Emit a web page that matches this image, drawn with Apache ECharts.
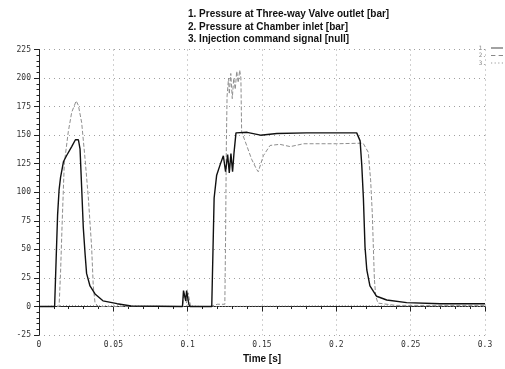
<!DOCTYPE html>
<html>
<head>
<meta charset="utf-8">
<script src="https://cdn.jsdelivr.net/npm/echarts@6/dist/echarts.min.js"></script>
<style>html,body{margin:0;padding:0;background:#fff;}#c{width:505px;height:369px;}</style>
</head>
<body>
<div id="c"></div>
<script>
var titleLines = [
  "1. Pressure at Three-way Valve outlet [bar]",
  "2. Pressure at Chamber inlet [bar]",
  "3. Injection command signal [null]"
];
var legendLabels = ["1.", "2.", "3."];
var xTicks = [0, 0.05, 0.1, 0.15, 0.2, 0.25, 0.3];
var yTicks = [-25, 0, 25, 50, 75, 100, 125, 150, 175, 200, 225];

// Series 1: Pressure at Three-way Valve outlet [bar]
var valveT = [0, 0.0105, 0.0115, 0.0125, 0.0135, 0.0145, 0.0165, 0.0185, 0.022, 0.0245, 0.0255, 0.0265, 0.0276, 0.0287, 0.0298, 0.031, 0.032, 0.0343, 0.0377, 0.043, 0.0525, 0.062,
  0.0965, 0.0972, 0.098, 0.0987, 0.0993, 0.1, 0.1008, 0.1015,
  0.1162, 0.1178, 0.1195, 0.1218, 0.124, 0.1255, 0.1269, 0.128, 0.1291, 0.1302, 0.1312, 0.1325, 0.14, 0.149, 0.16, 0.18, 0.2, 0.2137,
  0.216, 0.2171, 0.2182, 0.2193, 0.2205, 0.2226, 0.2271, 0.2339, 0.2473, 0.27, 0.3];
var valveP = [0, 0, 40, 80, 102, 113, 127, 132, 140, 146, 147.5, 146, 138, 104, 69, 46, 29, 18, 11, 5, 2.5, 0.5,
  0, 14, 14, 5, 14, 14, 2, 0,
  0, 95, 115, 124, 132, 118, 133, 117, 134, 118, 135, 152, 152.5, 150, 151.5, 152, 152, 152,
  145, 124, 95, 52, 32, 18, 9, 5.7, 3.4, 2.5, 2.5];

// Series 2: Pressure at Chamber inlet [bar]
var chamberT = [0, 0.0135, 0.0145, 0.0155, 0.017, 0.0197, 0.022, 0.025, 0.0265, 0.0287, 0.031, 0.0332, 0.0354, 0.0365, 0.0377, 0.04,
  0.0965, 0.0975, 0.0985, 0.0993, 0.1003, 0.1012, 0.102, 0.115, 0.12, 0.125,
  0.1255, 0.126, 0.1265, 0.1275, 0.128, 0.129, 0.13, 0.131, 0.132, 0.133, 0.134, 0.135, 0.1358,
  0.1363, 0.1397, 0.143, 0.1464, 0.1475, 0.1509, 0.1554, 0.162, 0.169, 0.178, 0.2, 0.218,
  0.2215, 0.2231, 0.2242, 0.2249, 0.2256, 0.2265, 0.228, 0.24, 0.3];
var chamberP = [0, 0, 30, 70, 125, 153, 170, 180, 176, 161, 129, 95, 52, 18, 3, 0,
  0, 12, 12, 3, 12, 12, 0, 0, 2, 2,
  60, 140, 184, 200, 186, 204, 182, 200, 190, 206, 196, 207, 200,
  153, 141, 129, 120, 118, 132, 141, 142, 140, 142.5, 142.5, 143,
  135, 110, 81, 52, 24, 9, 3, 1, 1];

// Series 3: Injection command signal [null]
var cmdT = [0, 0.003, 0.003, 0.02, 0.02, 0.097, 0.097, 0.1, 0.1, 0.11, 0.11, 0.21, 0.21, 0.3];
var cmdV = [0, 0, 1, 1, 0, 0, 1, 1, 0, 0, 1, 1, 0, 0];

function pairs(t, v) { return t.map(function (x, i) { return [x, v[i]]; }); }

var chart = echarts.init(document.getElementById('c'), null, {renderer: 'canvas'});
var gridLine = {show: true, lineStyle: {color: '#a0a0a0', type: [1, 4], width: 1}};
var legendIcons = [
  'path://M0,0h12v1h-12z',
  'path://M0,0h4v1h-4zM7,0h4v1h-4z',
  'path://M0,0h1v1h-1zM3,0h1v1h-1zM6,0h1v1h-1zM9,0h1v1h-1z'
];
var legendColors = ['#444', '#888', '#999'];
chart.setOption({
  animation: false,
  backgroundColor: '#fff',
  title: {
    text: titleLines.join('\n'),
    left: 183, top: 3,
    textStyle: {fontFamily: 'Liberation Sans, Arial', fontSize: 10, fontWeight: 'bold', lineHeight: 12.5, color: '#111'}
  },
  legend: {
    orient: 'vertical', right: -3, top: 40, align: 'right',
    itemWidth: 12, itemHeight: 6, itemGap: 1.5,
    textStyle: {fontSize: 6, color: '#888', fontFamily: 'DejaVu Sans Mono'},
    formatter: function (name) {
      var idx = titleLines.indexOf(name);
      return legendLabels[idx];
    },
    data: titleLines.map(function (n, i) {
      return {name: n, icon: legendIcons[i], itemStyle: {color: legendColors[i]}};
    })
  },
  grid: {left: 39, right: 20, top: 49.5, bottom: 31, containLabel: false},
  xAxis: {
    type: 'value', min: 0, max: 0.3, interval: 0.05,
    name: 'Time [s]', nameLocation: 'middle', nameGap: 17,
    nameTextStyle: {fontFamily: 'Liberation Sans, Arial', fontSize: 10, fontWeight: 'bold', color: '#111'},
    axisLine: {show: true, lineStyle: {color: '#222', width: 1}},
    axisTick: {show: true, length: 5, inside: false, lineStyle: {color: '#222'}},
    minorTick: {show: true, splitNumber: 5, length: 2.5, lineStyle: {color: '#222'}},
    axisLabel: {
      margin: 6, fontSize: 8, color: '#333', fontFamily: 'DejaVu Sans Mono',
      formatter: function (v) {
        var m = xTicks.filter(function (x) { return Math.abs(x - v) < 1e-9; });
        return m.length ? String(m[0]) : '';
      }
    },
    splitLine: gridLine
  },
  yAxis: {
    type: 'value', min: -25, max: 225, interval: 25,
    axisLine: {show: true, lineStyle: {color: '#222', width: 1}},
    axisTick: {show: true, length: 5, lineStyle: {color: '#222'}},
    minorTick: {show: true, splitNumber: 5, length: 2.5, lineStyle: {color: '#222'}},
    axisLabel: {
      margin: 8, fontSize: 8, color: '#333', fontFamily: 'DejaVu Sans Mono',
      formatter: function (v) {
        var m = yTicks.filter(function (y) { return Math.abs(y - v) < 1e-9; });
        return m.length ? String(m[0]) : '';
      }
    },
    splitLine: gridLine
  },
  series: [
    {
      name: titleLines[0], type: 'line', symbol: 'none', z: 3,
      data: pairs(valveT, valveP),
      lineStyle: {color: '#111', width: 1.4}, itemStyle: {color: '#111'}
    },
    {
      name: titleLines[1], type: 'line', symbol: 'none', z: 2,
      data: pairs(chamberT, chamberP),
      lineStyle: {color: '#8f8f8f', width: 1, type: [4, 2]}, itemStyle: {color: '#8f8f8f'}
    },
    {
      name: titleLines[2], type: 'line', symbol: 'none', z: 1,
      data: pairs(cmdT, cmdV),
      lineStyle: {color: '#999', width: 1, type: [1, 2]}, itemStyle: {color: '#999'}
    }
  ]
});
</script>
</body>
</html>
